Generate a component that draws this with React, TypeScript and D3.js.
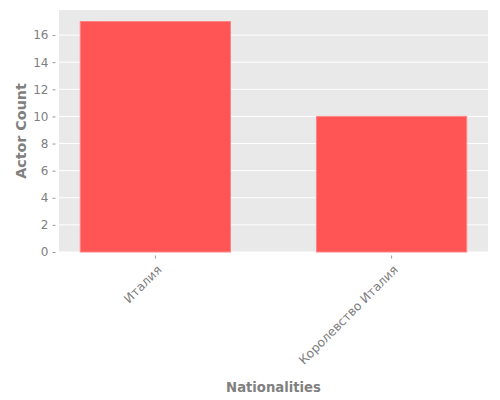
import React, { useEffect, useRef } from 'react';
import { axisBottom, axisLeft, scaleBand, scaleLinear, select } from 'd3';

const nationalities = ['Италия', 'Королевство Италия'];
const actorCounts = [17, 10];
const yTicks = [0, 2, 4, 6, 8, 10, 12, 14, 16];

const width = 500;
const height = 400;
const margin = { top: 10, right: 12, bottom: 148, left: 59 };
const tickGap = 3.5;
const textColor = '#808080';

const App: React.FC = () => {
  const svgRef = useRef<SVGSVGElement>(null);

  useEffect(() => {
    const svg = select(svgRef.current);
    const innerW = width - margin.left - margin.right;
    const innerH = height - margin.top - margin.bottom;

    // Scales
    const xScale = scaleBand<string>()
      .domain(nationalities)
      .range([0, innerW])
      .paddingInner(0.364)
      .paddingOuter(0.09);
    const yScale = scaleLinear()
      .domain([0, Math.max(...actorCounts) * 1.05])
      .range([innerH, 0]);

    const g = svg.select<SVGGElement>('.plot');
    g.attr('transform', `translate(${margin.left},${margin.top})`);

    // Background
    g.selectAll('.bg')
      .data([0])
      .join('rect')
      .attr('class', 'bg')
      .attr('width', innerW)
      .attr('height', innerH)
      .attr('fill', '#e9e9e9');

    // Grid
    g.selectAll('.grid')
      .data(yTicks)
      .join('line')
      .attr('class', 'grid')
      .attr('x1', 0)
      .attr('x2', innerW)
      .attr('y1', (d) => yScale(d))
      .attr('y2', (d) => yScale(d))
      .attr('stroke', '#ffffff')
      .attr('stroke-width', 1);

    // Bars
    g.selectAll('.bar')
      .data(nationalities)
      .join('rect')
      .attr('class', 'bar')
      .attr('x', (d) => xScale(d) as number)
      .attr('width', xScale.bandwidth())
      .attr('y', (_, i) => yScale(actorCounts[i]))
      .attr('height', (_, i) => innerH - yScale(actorCounts[i]))
      .attr('fill', '#ff5555')
      .attr('stroke', '#ff8585')
      .attr('stroke-width', 1);

    // Axes
    const yAxis = axisLeft(yScale).tickValues(yTicks).tickSize(3).tickPadding(4);
    const yG = g
      .select<SVGGElement>('.y-axis')
      .attr('transform', `translate(${-tickGap},0)`)
      .call(yAxis);
    yG.select('.domain').remove();
    yG.selectAll('line').attr('stroke', '#999');
    yG.selectAll('text')
      .attr('fill', textColor)
      .style('font-family', 'DejaVu Sans')
      .style('font-size', '12px');

    const xAxis = axisBottom(xScale).tickSize(3).tickPadding(4);
    const xG = g
      .select<SVGGElement>('.x-axis')
      .attr('transform', `translate(0,${innerH + tickGap})`)
      .call(xAxis);
    xG.select('.domain').remove();
    xG.selectAll('line').attr('stroke', '#999');
    xG.selectAll<SVGTextElement, string>('text')
      .attr('fill', textColor)
      .style('font-family', 'DejaVu Sans')
      .style('font-size', '12.3px')
      .attr('text-anchor', 'end')
      .attr('dy', '0.35em')
      .attr('transform', 'translate(4,12) rotate(-45)')
      .attr('y', 0)
      .attr('x', 0);

    // Labels
    svg
      .selectAll('.x-label')
      .data([0])
      .join('text')
      .attr('class', 'x-label')
      .attr('x', margin.left + innerW / 2)
      .attr('y', 392)
      .attr('text-anchor', 'middle')
      .attr('fill', textColor)
      .style('font-family', 'DejaVu Sans')
      .style('font-size', '13.2px')
      .style('font-weight', 'bold')
      .text('Nationalities');
    svg
      .selectAll('.y-label')
      .data([0])
      .join('text')
      .attr('class', 'y-label')
      .attr('transform', `translate(26,${margin.top + innerH / 2}) rotate(-90)`)
      .attr('text-anchor', 'middle')
      .attr('fill', textColor)
      .style('font-family', 'DejaVu Sans')
      .style('font-size', '14.3px')
      .style('font-weight', 'bold')
      .text('Actor Count');
  }, []);

  return (
    <svg
      ref={svgRef}
      width={width}
      height={height}
      style={{ position: 'absolute', left: 0, top: 0, background: '#fff' }}
    >
      <g className="plot">
        <g className="x-axis" />
        <g className="y-axis" />
      </g>
    </svg>
  );
};

export default App;
